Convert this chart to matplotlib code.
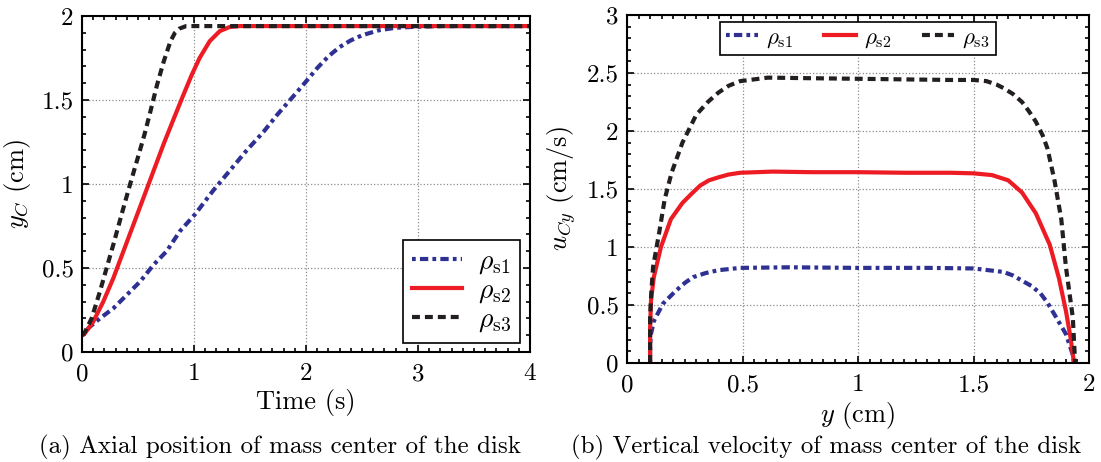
import matplotlib
matplotlib.use("Agg")
import matplotlib.pyplot as plt
from matplotlib.ticker import MultipleLocator, FormatStrFormatter

plt.rcParams["font.family"] = "serif"
plt.rcParams["font.serif"] = ["cmr10"]
plt.rcParams["mathtext.fontset"] = "cm"
plt.rcParams["axes.formatter.use_mathtext"] = True

# ---- (a) axial position of the disk's mass center vs time ----
t_s1 = [0, 0.07, 0.16, 0.28, 0.40, 0.52, 0.64, 0.756, 0.875, 1.01, 1.17, 1.32,
        1.47, 1.62, 1.74, 1.91, 2.0, 2.1, 2.2, 2.3, 2.4, 2.5, 2.65, 2.8, 2.95,
        3.2, 4.0]
yc_s1 = [0.10, 0.15, 0.20, 0.26, 0.34, 0.42, 0.52, 0.60, 0.72, 0.82, 0.96, 1.08,
         1.20, 1.31, 1.41, 1.54, 1.61, 1.69, 1.76, 1.815, 1.855, 1.885, 1.915,
         1.93, 1.935, 1.94, 1.94]

t_s2 = [0, 0.018, 0.10, 0.19, 0.28, 0.37, 0.46, 0.55, 0.64, 0.73, 0.82, 0.905,
        0.98, 1.05, 1.14, 1.23, 1.32, 1.41, 4.0]
yc_s2 = [0.10, 0.104, 0.18, 0.30, 0.44, 0.60, 0.76, 0.92, 1.08, 1.24, 1.39, 1.53,
         1.65, 1.75, 1.85, 1.91, 1.935, 1.94, 1.94]

t_s3 = [0, 0.027, 0.086, 0.16, 0.22, 0.28, 0.354, 0.43, 0.50, 0.56, 0.61, 0.67,
        0.73, 0.79, 0.83, 0.87, 0.93, 1.0, 4.0]
yc_s3 = [0.10, 0.12, 0.20, 0.36, 0.50, 0.64, 0.82, 1.00, 1.16, 1.30, 1.43, 1.59,
         1.73, 1.85, 1.90, 1.925, 1.94, 1.94, 1.94]

# ---- (b) vertical velocity of the mass center vs axial position ----
y_s1 = [0.1, 0.1, 0.104, 0.116, 0.155, 0.21, 0.25, 0.286, 0.34, 0.395, 0.49, 0.7,
        1.0, 1.3, 1.5, 1.63, 1.67, 1.71, 1.75, 1.79, 1.82, 1.85, 1.90, 1.93, 1.935]
u_s1 = [0, 0.15, 0.25, 0.36, 0.51, 0.62, 0.69, 0.74, 0.775, 0.80, 0.82, 0.825,
        0.82, 0.82, 0.815, 0.785, 0.755, 0.71, 0.665, 0.60, 0.52, 0.42, 0.25,
        0.07, 0.0]

y_s2 = [0.1, 0.1, 0.104, 0.116, 0.147, 0.19, 0.24, 0.28, 0.317, 0.355, 0.395,
        0.44, 0.49, 0.63, 0.8, 1.0, 1.2, 1.4, 1.5, 1.58, 1.65, 1.71, 1.77, 1.83,
        1.87, 1.90, 1.92, 1.935]
u_s2 = [0, 0.3, 0.54, 0.74, 1.0, 1.24, 1.38, 1.46, 1.53, 1.575, 1.60,
        1.625, 1.64, 1.65, 1.645, 1.645, 1.64, 1.64, 1.635, 1.62, 1.575, 1.47,
        1.29, 1.02, 0.73, 0.45, 0.22, 0.0]

y_s3 = [0.1, 0.1, 0.105, 0.113, 0.139, 0.163, 0.193, 0.24, 0.30, 0.35, 0.395,
        0.44, 0.49, 0.61, 0.8, 1.0, 1.2, 1.4, 1.5, 1.556, 1.60, 1.63, 1.67, 1.71,
        1.74, 1.77, 1.80, 1.82, 1.85, 1.88, 1.90, 1.93, 1.94]
u_s3 = [0, 0.4, 0.6, 0.83, 1.12, 1.41, 1.64, 1.90, 2.14, 2.25, 2.33,
        2.39, 2.43, 2.46, 2.455, 2.45, 2.445, 2.44, 2.44, 2.43, 2.40, 2.37, 2.32,
        2.25, 2.17, 2.08, 1.96, 1.85, 1.58, 1.24, 0.83, 0.39, 0.0]

labels = [r"$\rho_{\mathrm{s1}}$", r"$\rho_{\mathrm{s2}}$", r"$\rho_{\mathrm{s3}}$"]
colors = ["#2E3192", "#ED1C24", "#231F20"]
styles = [(0, (0.9, 1.0, 2.0, 1.0)), "-", (0, (1.9, 1.2))]
lw = 3.0

W, H = 1101, 462
fig = plt.figure(figsize=(W / 100, H / 100), dpi=100)


def px_axes(x0, y0, x1, y1):
    return fig.add_axes([x0 / W, 1 - y1 / H, (x1 - x0) / W, (y1 - y0) / H])


def style_axes(ax):
    ax.tick_params(which="both", direction="in", top=True, right=True,
                   labelsize=18, width=1.2)
    ax.tick_params(which="major", length=5)
    ax.tick_params(which="minor", length=3)
    ax.tick_params(axis="x", which="major", pad=8)
    ax.tick_params(axis="y", which="major", pad=6)
    ax.xaxis.set_major_formatter(FormatStrFormatter("%g"))
    ax.yaxis.set_major_formatter(FormatStrFormatter("%g"))
    for s in ax.spines.values():
        s.set_linewidth(1.5)
    ax.grid(True, which="major", linestyle=":", color="#8c8c8c", linewidth=0.9)
    ax.set_axisbelow(True)


axa = px_axes(82, 16, 530, 352)
for t, v, c, ls, lab in zip([t_s1, t_s2, t_s3], [yc_s1, yc_s2, yc_s3],
                            colors, styles, labels):
    axa.plot(t, v, color=c, linestyle=ls, linewidth=lw, label=lab)
axa.set_xlim(0, 4)
axa.set_ylim(0, 2)
axa.xaxis.set_major_locator(MultipleLocator(1))
axa.xaxis.set_minor_locator(MultipleLocator(0.1))
axa.yaxis.set_major_locator(MultipleLocator(0.5))
axa.yaxis.set_minor_locator(MultipleLocator(0.1))
style_axes(axa)
axa.set_xlabel("Time (s)", fontsize=19, labelpad=3)
axa.set_ylabel(r"$y_C$ (cm)", fontsize=19, labelpad=6)
leg = axa.legend(loc="lower right", bbox_to_anchor=(0.977, 0.028), fontsize=20,
                 frameon=True, fancybox=False, edgecolor="black", framealpha=1,
                 handlelength=1.8, handletextpad=0.6, labelspacing=0.05,
                 borderpad=0.3, borderaxespad=0)
leg.get_frame().set_linewidth(1.2)

axb = px_axes(627, 15, 1089, 363)
for x, v, c, ls, lab in zip([y_s1, y_s2, y_s3], [u_s1, u_s2, u_s3],
                            colors, styles, labels):
    axb.plot(x, v, color=c, linestyle=ls, linewidth=lw, label=lab)
axb.set_xlim(0, 2)
axb.set_ylim(0, 3)
axb.xaxis.set_major_locator(MultipleLocator(0.5))
axb.xaxis.set_minor_locator(MultipleLocator(0.05))
axb.yaxis.set_major_locator(MultipleLocator(0.5))
axb.yaxis.set_minor_locator(MultipleLocator(0.1))
style_axes(axb)
axb.set_xlabel(r"$y$ (cm)", fontsize=19, labelpad=3)
axb.set_ylabel(r"$u_{Cy}$ (cm/s)", fontsize=19, labelpad=6)
legb = axb.legend(loc="upper center", bbox_to_anchor=(0.5, 0.981), ncol=3,
                  fontsize=16.5, frameon=True, fancybox=False, edgecolor="black",
                  framealpha=1, handlelength=1.4, handletextpad=0.35,
                  columnspacing=1.35, borderpad=0.25, borderaxespad=0)
legb.get_frame().set_linewidth(1.2)

fig.text(280 / W, 1 - 447 / H, "(a) Axial position of mass center of the disk",
         ha="center", va="center", fontsize=18)
fig.text(826 / W, 1 - 447 / H, "(b) Vertical velocity of mass center of the disk",
         ha="center", va="center", fontsize=18)

fig.savefig("out.png", dpi=100)
